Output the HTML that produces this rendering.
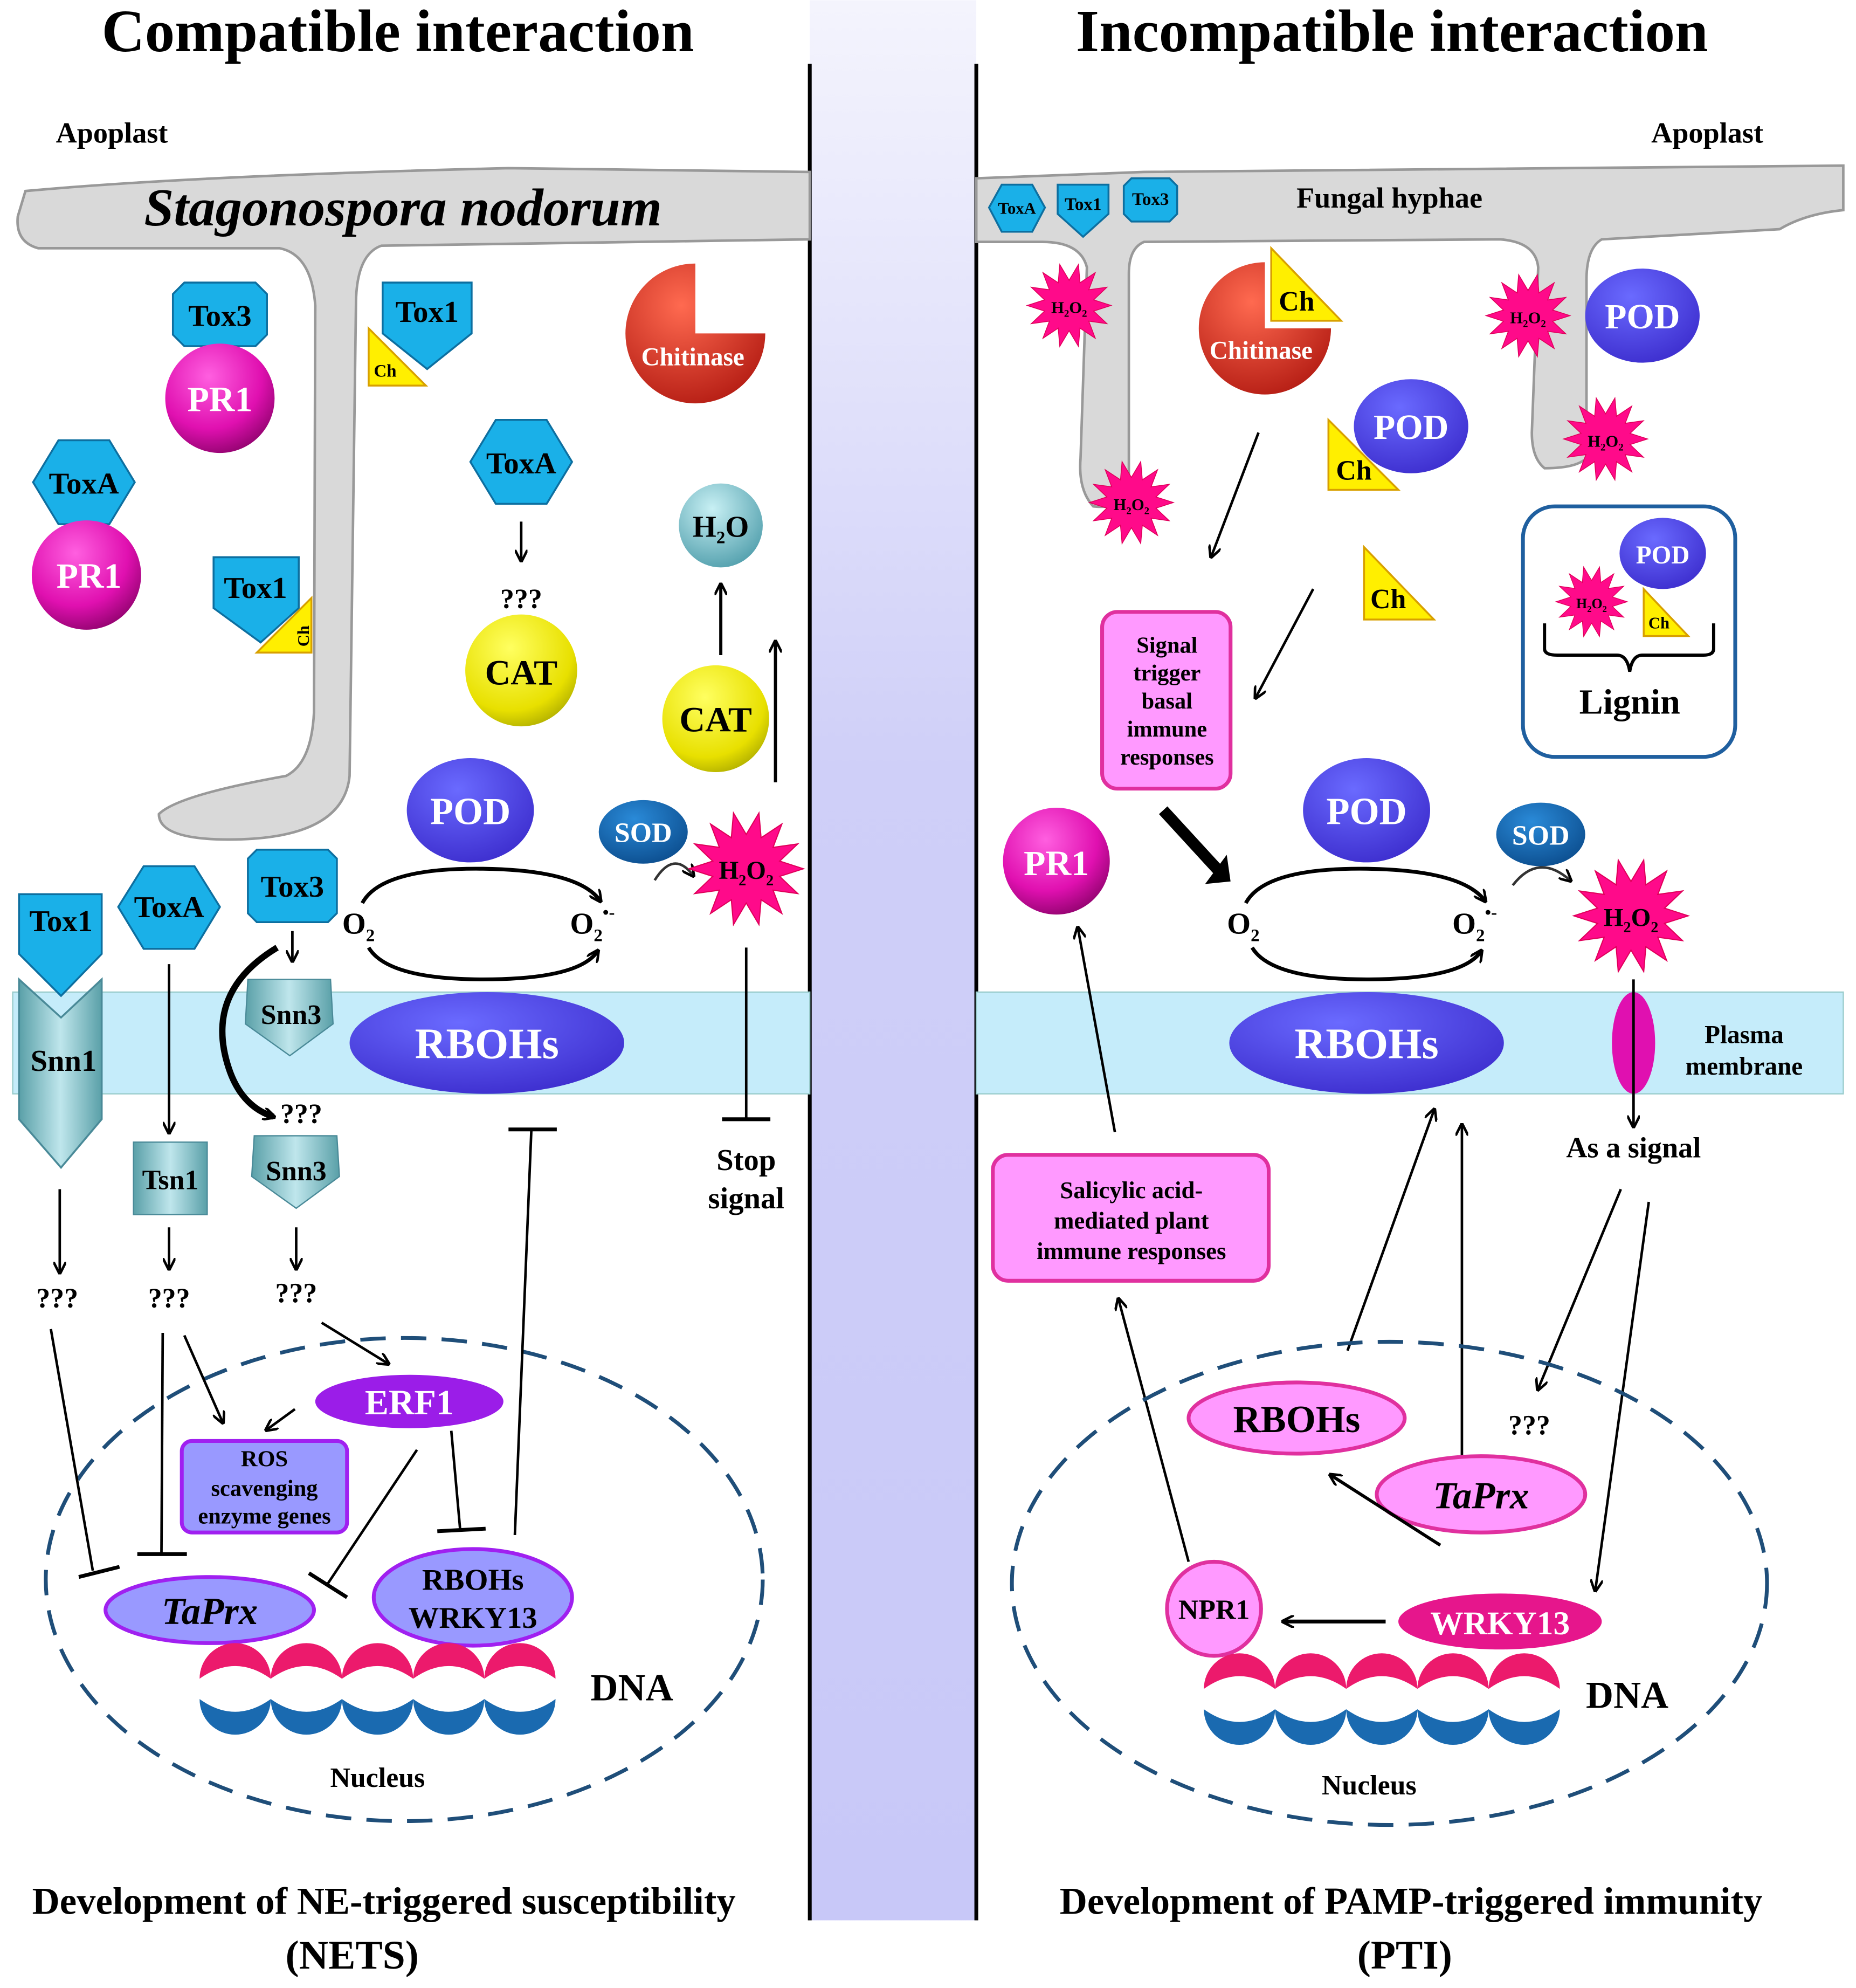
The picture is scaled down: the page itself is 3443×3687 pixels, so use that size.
<!DOCTYPE html>
<html><head><meta charset="utf-8"><style>html,body{margin:0;padding:0;background:#fff}svg{display:block}text{font-family:"Liberation Serif",serif;font-weight:bold}</style></head><body>
<svg width="3443" height="3687" viewBox="0 0 1460 1563" xmlns="http://www.w3.org/2000/svg">
<defs>
<linearGradient id="band" x1="0" y1="0" x2="0" y2="1"><stop offset="0" stop-color="#f4f4fd"/><stop offset="0.4" stop-color="#cfcff8"/><stop offset="1" stop-color="#c8c8f8"/></linearGradient>
<radialGradient id="pink" cx="0.4" cy="0.3" r="0.8"><stop offset="0" stop-color="#ff5fe0"/><stop offset="0.6" stop-color="#e010b0"/><stop offset="1" stop-color="#800060"/></radialGradient>
<radialGradient id="yel" cx="0.4" cy="0.3" r="0.8"><stop offset="0" stop-color="#ffff60"/><stop offset="0.7" stop-color="#e8e000"/><stop offset="1" stop-color="#a0a000"/></radialGradient>
<radialGradient id="blu" cx="0.4" cy="0.3" r="0.8"><stop offset="0" stop-color="#6a6aff"/><stop offset="1" stop-color="#3a2acb"/></radialGradient>
<radialGradient id="teal" cx="0.4" cy="0.3" r="0.8"><stop offset="0" stop-color="#c8f0f4"/><stop offset="1" stop-color="#4a9aa8"/></radialGradient>
<radialGradient id="sod" cx="0.4" cy="0.3" r="0.8"><stop offset="0" stop-color="#2a8ad8"/><stop offset="1" stop-color="#0a4a8a"/></radialGradient>
<radialGradient id="red" cx="0.4" cy="0.3" r="0.8"><stop offset="0" stop-color="#ff6a50"/><stop offset="1" stop-color="#b01810"/></radialGradient>
<linearGradient id="snn" x1="0" y1="0" x2="1" y2="0"><stop offset="0" stop-color="#5aa0a8"/><stop offset="0.5" stop-color="#bfe6ec"/><stop offset="1" stop-color="#5aa0a8"/></linearGradient>
<marker id="ar" markerWidth="10" markerHeight="10" refX="8" refY="5" orient="auto" markerUnits="userSpaceOnUse"><path d="M0,0 L10,5 L0,10" fill="none" stroke="#000" stroke-width="2"/></marker>
<g id="star"><polygon points="1,0 .585,.1335 .901,.434 .469,.374 .6235,.782 .26,.541 .2225,.975 0,.6 -.2225,.975 -.26,.541 -.6235,.782 -.469,.374 -.901,.434 -.585,.1335 -1,0 -.585,-.1335 -.901,-.434 -.469,-.374 -.6235,-.782 -.26,-.541 -.2225,-.975 0,-.6 .2225,-.975 .26,-.541 .6235,-.782 .469,-.374 .901,-.434 .585,-.1335" fill="#ff0a8a" stroke="#e0005a" stroke-width="0.02"/></g>
</defs>
<rect x="637" y="0" width="131" height="1510" fill="url(#band)"/>
<line x1="637" y1="50" x2="637" y2="1510" stroke="#000" stroke-width="3"/>
<line x1="768" y1="50" x2="768" y2="1510" stroke="#000" stroke-width="3"/>
<text x="313" y="40" font-size="47" text-anchor="middle">Compatible interaction</text>
<text x="1095" y="40" font-size="47" text-anchor="middle">Incompatible interaction</text>
<text x="88" y="112" font-size="23" text-anchor="middle">Apoplast</text>
<text x="1343" y="112" font-size="23" text-anchor="middle">Apoplast</text>
<rect x="10" y="780" width="627" height="80" fill="#c5ecfa" stroke="#9cc" stroke-width="1"/>
<rect x="768" y="780" width="682" height="80" fill="#c5ecfa" stroke="#9cc" stroke-width="1"/>
<path d="M20,150 Q150,138 400,132 L637,135 L637,188 L300,193 Q280,200 280,240 L275,610 Q270,660 180,660 Q125,660 125,640 Q140,625 225,610 Q245,600 247,560 L248,240 Q245,200 220,195 L30,195 Q12,190 14,170 Z" fill="#d9d9d9" stroke="#999" stroke-width="2"/>
<text x="317" y="177" font-size="42" font-style="italic" text-anchor="middle">Stagonospora nodorum</text>
<path d="M768,140 L900,135 L1450,130 L1450,165 Q1420,168 1400,180 L1260,188 Q1248,195 1248,220 L1248,360 Q1240,368 1215,368 Q1205,360 1205,340 L1210,210 Q1208,190 1180,188 L900,190 Q888,195 888,215 L888,390 Q880,400 860,398 Q848,385 850,360 L855,210 Q850,190 820,190 L768,190 Z" fill="#d9d9d9" stroke="#999" stroke-width="2"/>
<text x="1093" y="163" font-size="23" text-anchor="middle">Fungal hyphae</text>
<polygon points="778,163 788,145 812,145 822,163 812,182 788,182" fill="#1ab0e8" stroke="#0d6fa0" stroke-width="1.5"/><text x="800" y="168" font-size="13" text-anchor="middle">ToxA</text>
<polygon points="832,145 872,145 872,168 852,186 832,168" fill="#1ab0e8" stroke="#0d6fa0" stroke-width="1.5"/><text x="852" y="165" font-size="14" text-anchor="middle">Tox1</text>
<polygon points="890,140 920,140 926,146 926,168 920,174 890,174 884,168 884,146" fill="#1ab0e8" stroke="#0d6fa0" stroke-width="1.5"/><text x="905" y="161" font-size="14" text-anchor="middle">Tox3</text>
<polygon points="145,222 201,222 210,231 210,263 201,272 145,272 136,263 136,231" fill="#1ab0e8" stroke="#0d6fa0" stroke-width="1.5"/><text x="173" y="256" font-size="24" text-anchor="middle">Tox3</text>
<circle cx="173" cy="313" r="43" fill="url(#pink)"/><text x="173" y="323" font-size="28" fill="#fff" text-anchor="middle">PR1</text>
<polygon points="26,379 46,346 86,346 106,379 86,412 46,412" fill="#1ab0e8" stroke="#0d6fa0" stroke-width="1.5"/><text x="66" y="388" font-size="24" text-anchor="middle">ToxA</text>
<circle cx="68" cy="452" r="43" fill="url(#pink)"/><text x="70" y="462" font-size="28" fill="#fff" text-anchor="middle">PR1</text>
<polygon points="301,222 371,222 371,262 336,290 301,262" fill="#1ab0e8" stroke="#0d6fa0" stroke-width="1.5"/><text x="336" y="253" font-size="24" text-anchor="middle">Tox1</text>
<polygon points="290,258 335,303 290,303" fill="#ffef00" stroke="#d8a000" stroke-width="1.5"/><text x="303" y="296" font-size="14" text-anchor="middle">Ch</text>
<polygon points="168,438 235,438 235,478 205,505 168,478" fill="#1ab0e8" stroke="#0d6fa0" stroke-width="1.5"/><text x="201" y="470" font-size="24" text-anchor="middle">Tox1</text>
<polygon points="245,470 245,513 202,513" fill="#ffef00" stroke="#d8a000" stroke-width="1.5"/><text x="238" y="505" font-size="13" transform="rotate(-90 238 500)" text-anchor="middle">Ch</text>
<path d="M547,262 L602,262 A55 55 0 1 1 547,207 Z" fill="url(#red)"/><text x="545" y="287" font-size="20" fill="#fff" text-anchor="middle">Chitinase</text>
<polygon points="370,363 390,330 430,330 450,363 430,396 390,396" fill="#1ab0e8" stroke="#0d6fa0" stroke-width="1.5"/><text x="410" y="372" font-size="24" text-anchor="middle">ToxA</text>
<line x1="410" y1="410" x2="410" y2="440" stroke="#000" stroke-width="2" marker-end="url(#ar)"/>
<text x="410" y="478" font-size="22" text-anchor="middle">???</text>
<circle cx="410" cy="527" r="44" fill="url(#yel)"/><text x="410" y="538" font-size="28" text-anchor="middle">CAT</text>
<circle cx="567" cy="413" r="33" fill="url(#teal)"/><text x="567" y="422" font-size="24" text-anchor="middle">H<tspan font-size="14" dy="5">2</tspan><tspan dy="-5">O</tspan></text>
<line x1="567" y1="515" x2="567" y2="460" stroke="#000" stroke-width="2.5" marker-end="url(#ar)"/>
<circle cx="563" cy="565" r="42" fill="url(#yel)"/><text x="563" y="575" font-size="28" text-anchor="middle">CAT</text>
<line x1="610" y1="615" x2="610" y2="505" stroke="#000" stroke-width="2.5" marker-end="url(#ar)"/>
<ellipse cx="370" cy="637" rx="50" ry="41" fill="url(#blu)"/><text x="370" y="648" font-size="30" fill="#fff" text-anchor="middle">POD</text>
<ellipse cx="506" cy="654" rx="35" ry="25" fill="url(#sod)"/><text x="506" y="662" font-size="22" fill="#fff" text-anchor="middle">SOD</text>
<path d="M285,710 Q300,682 380,683 Q455,684 472,708" fill="none" stroke="#000" stroke-width="3" marker-end="url(#ar)"/>
<path d="M290,745 Q305,770 380,770 Q455,770 470,748" fill="none" stroke="#000" stroke-width="3" marker-end="url(#ar)"/>
<text x="282" y="734" font-size="24" text-anchor="middle">O<tspan font-size="14" dy="6">2</tspan></text>
<text x="466" y="734" font-size="24" text-anchor="middle">O<tspan font-size="14" dy="6">2</tspan><tspan font-size="14" dy="-18">•-</tspan></text>
<path d="M515,692 Q530,668 545,688" fill="none" stroke="#333" stroke-width="2" marker-end="url(#ar)"/>
<use href="#star" transform="translate(587,683) scale(45)"/>
<text x="587" y="691" font-size="20" text-anchor="middle">H<tspan font-size="12" dy="5">2</tspan><tspan dy="-5">O</tspan><tspan font-size="12" dy="5">2</tspan></text>
<line x1="587" y1="745" x2="587" y2="880" stroke="#000" stroke-width="2"/><line x1="568" y1="880" x2="606" y2="880" stroke="#000" stroke-width="3"/>
<text x="587" y="920" font-size="24" text-anchor="middle">Stop</text><text x="587" y="950" font-size="24" text-anchor="middle">signal</text>
<path d="M15,770 L48,800 L80,770 L80,880 L48,918 L15,880 Z" fill="url(#snn)" stroke="#4a8a98" stroke-width="1.5"/>
<polygon points="15,703 80,703 80,750 48,783 15,750" fill="#1ab0e8" stroke="#0d6fa0" stroke-width="1.5"/>
<text x="48" y="732" font-size="24" text-anchor="middle">Tox1</text>
<text x="50" y="842" font-size="24" text-anchor="middle">Snn1</text>
<polygon points="93,713 113,681 153,681 173,713 153,746 113,746" fill="#1ab0e8" stroke="#0d6fa0" stroke-width="1.5"/><text x="133" y="721" font-size="24" text-anchor="middle">ToxA</text>
<line x1="133" y1="758" x2="133" y2="890" stroke="#000" stroke-width="2" marker-end="url(#ar)"/>
<rect x="105" y="898" width="58" height="57" fill="url(#snn)" stroke="#4a8a98"/><text x="134" y="935" font-size="22" text-anchor="middle">Tsn1</text>
<polygon points="202,668 258,668 265,675 265,718 258,725 202,725 195,718 195,675" fill="#1ab0e8" stroke="#0d6fa0" stroke-width="1.5"/><text x="230" y="705" font-size="24" text-anchor="middle">Tox3</text>
<line x1="230" y1="732" x2="230" y2="755" stroke="#000" stroke-width="2" marker-end="url(#ar)"/>
<polygon points="195,770 260,770 262,805 228,830 193,805" fill="url(#snn)" stroke="#4a8a98"/><text x="229" y="805" font-size="22" text-anchor="middle">Snn3</text>
<path d="M218,745 Q160,780 180,840 Q190,870 215,878" fill="none" stroke="#000" stroke-width="5" marker-end="url(#ar)"/>
<text x="237" y="883" font-size="22" text-anchor="middle">???</text>
<polygon points="200,893 265,893 267,925 233,950 198,925" fill="url(#snn)" stroke="#4a8a98"/><text x="233" y="928" font-size="22" text-anchor="middle">Snn3</text>
<ellipse cx="383" cy="820" rx="108" ry="40" fill="url(#blu)"/><text x="383" y="832" font-size="34" fill="#fff" text-anchor="middle">RBOHs</text>
<line x1="47" y1="935" x2="47" y2="1000" stroke="#000" stroke-width="2" marker-end="url(#ar)"/>
<line x1="133" y1="965" x2="133" y2="997" stroke="#000" stroke-width="2" marker-end="url(#ar)"/>
<line x1="233" y1="965" x2="233" y2="997" stroke="#000" stroke-width="2" marker-end="url(#ar)"/>
<text x="45" y="1028" font-size="22" text-anchor="middle">???</text>
<text x="133" y="1028" font-size="22" text-anchor="middle">???</text>
<text x="233" y="1024" font-size="22" text-anchor="middle">???</text>
<ellipse cx="318" cy="1242" rx="282" ry="190" fill="none" stroke="#1f4e79" stroke-width="3" stroke-dasharray="20 12"/>
<line x1="40" y1="1045" x2="73" y2="1235" stroke="#000" stroke-width="2"/><line x1="62" y1="1240" x2="94" y2="1232" stroke="#000" stroke-width="3"/>
<line x1="128" y1="1048" x2="127" y2="1222" stroke="#000" stroke-width="2"/><line x1="108" y1="1222" x2="147" y2="1222" stroke="#000" stroke-width="3"/>
<line x1="145" y1="1050" x2="175" y2="1118" stroke="#000" stroke-width="2" marker-end="url(#ar)"/>
<line x1="253" y1="1040" x2="305" y2="1072" stroke="#000" stroke-width="2" marker-end="url(#ar)"/>
<line x1="232" y1="1108" x2="210" y2="1124" stroke="#000" stroke-width="2" marker-end="url(#ar)"/>
<line x1="328" y1="1140" x2="258" y2="1245" stroke="#000" stroke-width="2"/><line x1="243" y1="1237" x2="273" y2="1256" stroke="#000" stroke-width="3"/>
<line x1="355" y1="1125" x2="362" y2="1203" stroke="#000" stroke-width="2"/><line x1="344" y1="1204" x2="382" y2="1202" stroke="#000" stroke-width="3"/>
<line x1="405" y1="1207" x2="418" y2="888" stroke="#000" stroke-width="2"/><line x1="400" y1="888" x2="438" y2="888" stroke="#000" stroke-width="3"/>
<ellipse cx="322" cy="1102" rx="74" ry="21" fill="#9b1de8"/><text x="322" y="1112" font-size="28" fill="#fff" text-anchor="middle">ERF1</text>
<rect x="143" y="1133" width="130" height="72" rx="8" fill="#9999ff" stroke="#a020f0" stroke-width="3"/>
<text x="208" y="1153" font-size="18" text-anchor="middle">ROS</text><text x="208" y="1176" font-size="18" text-anchor="middle">scavenging</text><text x="208" y="1198" font-size="18" text-anchor="middle">enzyme genes</text>
<ellipse cx="165" cy="1266" rx="82" ry="26" fill="#9999ff" stroke="#a020f0" stroke-width="3"/><text x="165" y="1277" font-size="30" font-style="italic" text-anchor="middle">TaPrx</text>
<ellipse cx="372" cy="1256" rx="78" ry="38" fill="#9999ff" stroke="#a020f0" stroke-width="3"/><text x="372" y="1250" font-size="24" text-anchor="middle">RBOHs</text><text x="372" y="1280" font-size="24" text-anchor="middle">WRKY13</text>
<g id="dnaL">
<path d="M157,1320 A28 28 0 0 1 213,1320 Q185,1300 157,1320Z" fill="#ec1a6c"/><path d="M157,1336 A28 28 0 0 0 213,1336 Q185,1356 157,1336Z" fill="#1a6ab0"/>
<path d="M213,1320 A28 28 0 0 1 269,1320 Q241,1300 213,1320Z" fill="#ec1a6c"/><path d="M213,1336 A28 28 0 0 0 269,1336 Q241,1356 213,1336Z" fill="#1a6ab0"/>
<path d="M269,1320 A28 28 0 0 1 325,1320 Q297,1300 269,1320Z" fill="#ec1a6c"/><path d="M269,1336 A28 28 0 0 0 325,1336 Q297,1356 269,1336Z" fill="#1a6ab0"/>
<path d="M325,1320 A28 28 0 0 1 381,1320 Q353,1300 325,1320Z" fill="#ec1a6c"/><path d="M325,1336 A28 28 0 0 0 381,1336 Q353,1356 325,1336Z" fill="#1a6ab0"/>
<path d="M381,1320 A28 28 0 0 1 437,1320 Q409,1300 381,1320Z" fill="#ec1a6c"/><path d="M381,1336 A28 28 0 0 0 437,1336 Q409,1356 381,1336Z" fill="#1a6ab0"/>
</g>
<text x="497" y="1337" font-size="30" text-anchor="middle">DNA</text>
<text x="297" y="1405" font-size="22" text-anchor="middle">Nucleus</text>
<text x="302" y="1505" font-size="30" text-anchor="middle">Development of NE-triggered susceptibility</text>
<text x="277" y="1548" font-size="32" text-anchor="middle">(NETS)</text>
<use href="#star" transform="translate(841,240) scale(33)"/><text x="841" y="246" font-size="13" text-anchor="middle">H<tspan font-size="8" dy="3">2</tspan><tspan dy="-3">O</tspan><tspan font-size="8" dy="3">2</tspan></text>
<use href="#star" transform="translate(890,395) scale(33)"/><text x="890" y="401" font-size="13" text-anchor="middle">H<tspan font-size="8" dy="3">2</tspan><tspan dy="-3">O</tspan><tspan font-size="8" dy="3">2</tspan></text>
<use href="#star" transform="translate(1202,248) scale(33)"/><text x="1202" y="254" font-size="13" text-anchor="middle">H<tspan font-size="8" dy="3">2</tspan><tspan dy="-3">O</tspan><tspan font-size="8" dy="3">2</tspan></text>
<use href="#star" transform="translate(1263,345) scale(33)"/><text x="1263" y="351" font-size="13" text-anchor="middle">H<tspan font-size="8" dy="3">2</tspan><tspan dy="-3">O</tspan><tspan font-size="8" dy="3">2</tspan></text>
<path d="M995,258 L1047,258 A52 52 0 1 1 995,206 Z" fill="url(#red)"/><text x="992" y="282" font-size="20" fill="#fff" text-anchor="middle">Chitinase</text>
<polygon points="1000,195 1055,252 1000,252" fill="#ffef00" stroke="#d8a000" stroke-width="1.5"/><text x="1020" y="244" font-size="22" text-anchor="middle">Ch</text>
<ellipse cx="1292" cy="248" rx="45" ry="37" fill="url(#blu)"/><text x="1292" y="258" font-size="28" fill="#fff" text-anchor="middle">POD</text>
<ellipse cx="1110" cy="335" rx="45" ry="37" fill="url(#blu)"/><text x="1110" y="345" font-size="28" fill="#fff" text-anchor="middle">POD</text>
<polygon points="1045,330 1100,385 1045,385" fill="#ffef00" stroke="#d8a000" stroke-width="1.5"/><text x="1065" y="377" font-size="22" text-anchor="middle">Ch</text>
<polygon points="1073,430 1128,487 1073,487" fill="#ffef00" stroke="#d8a000" stroke-width="1.5"/><text x="1092" y="478" font-size="22" text-anchor="middle">Ch</text>
<line x1="990" y1="340" x2="953" y2="437" stroke="#000" stroke-width="2" marker-end="url(#ar)"/>
<line x1="1033" y1="463" x2="988" y2="548" stroke="#000" stroke-width="2" marker-end="url(#ar)"/>
<rect x="867" y="481" width="101" height="139" rx="12" fill="#ff99ff" stroke="#e0309f" stroke-width="3"/>
<text x="918" y="513" font-size="18" text-anchor="middle">Signal</text><text x="918" y="535" font-size="18" text-anchor="middle">trigger</text><text x="918" y="557" font-size="18" text-anchor="middle">basal</text><text x="918" y="579" font-size="18" text-anchor="middle">immune</text><text x="918" y="601" font-size="18" text-anchor="middle">responses</text>
<rect x="1198" y="398" width="167" height="197" rx="25" fill="#fff" stroke="#1f5f9f" stroke-width="3"/>
<ellipse cx="1308" cy="435" rx="34" ry="28" fill="url(#blu)"/><text x="1308" y="443" font-size="20" fill="#fff" text-anchor="middle">POD</text>
<use href="#star" transform="translate(1252,473) scale(28)"/><text x="1252" y="478" font-size="11" text-anchor="middle">H<tspan font-size="7" dy="3">2</tspan><tspan dy="-3">O</tspan><tspan font-size="7" dy="3">2</tspan></text>
<polygon points="1293,463 1328,500 1293,500" fill="#ffef00" stroke="#d8a000" stroke-width="1.5"/><text x="1305" y="494" font-size="13" text-anchor="middle">Ch</text>
<path d="M1215,490 L1215,510 Q1215,515 1225,515 L1272,515 Q1280,515 1282,528 Q1284,515 1292,515 L1340,515 Q1348,515 1348,510 L1348,490" fill="none" stroke="#000" stroke-width="2.5"/>
<text x="1282" y="561" font-size="28" text-anchor="middle">Lignin</text>
<line x1="915" y1="637" x2="960" y2="686" stroke="#000" stroke-width="9"/><polygon points="948,695 968,693 965,672" fill="#000"/>
<circle cx="831" cy="677" r="42" fill="url(#pink)"/><text x="831" y="688" font-size="28" fill="#fff" text-anchor="middle">PR1</text>
<ellipse cx="1075" cy="637" rx="50" ry="41" fill="url(#blu)"/><text x="1075" y="648" font-size="30" fill="#fff" text-anchor="middle">POD</text>
<ellipse cx="1212" cy="656" rx="35" ry="25" fill="url(#sod)"/><text x="1212" y="664" font-size="22" fill="#fff" text-anchor="middle">SOD</text>
<path d="M980,710 Q995,682 1075,683 Q1150,684 1168,708" fill="none" stroke="#000" stroke-width="3" marker-end="url(#ar)"/>
<path d="M985,745 Q1000,770 1075,770 Q1150,770 1165,748" fill="none" stroke="#000" stroke-width="3" marker-end="url(#ar)"/>
<text x="978" y="734" font-size="24" text-anchor="middle">O<tspan font-size="14" dy="6">2</tspan></text>
<text x="1160" y="734" font-size="24" text-anchor="middle">O<tspan font-size="14" dy="6">2</tspan><tspan font-size="14" dy="-18">•-</tspan></text>
<path d="M1190,696 Q1210,670 1235,692" fill="none" stroke="#333" stroke-width="2" marker-end="url(#ar)"/>
<ellipse cx="1075" cy="820" rx="108" ry="40" fill="url(#blu)"/><text x="1075" y="832" font-size="34" fill="#fff" text-anchor="middle">RBOHs</text>
<ellipse cx="1285" cy="820" rx="17" ry="40" fill="#e010b0"/>
<use href="#star" transform="translate(1283,720) scale(45)"/>
<text x="1283" y="728" font-size="20" text-anchor="middle">H<tspan font-size="12" dy="5">2</tspan><tspan dy="-5">O</tspan><tspan font-size="12" dy="5">2</tspan></text>
<line x1="1285" y1="770" x2="1285" y2="885" stroke="#000" stroke-width="2" marker-end="url(#ar)"/>
<text x="1372" y="820" font-size="20" text-anchor="middle">Plasma</text><text x="1372" y="845" font-size="20" text-anchor="middle">membrane</text>
<text x="1285" y="910" font-size="23" text-anchor="middle">As a signal</text>
<rect x="781" y="908" width="217" height="99" rx="12" fill="#ff99ff" stroke="#e0309f" stroke-width="3"/>
<text x="890" y="942" font-size="19" text-anchor="middle">Salicylic acid-</text><text x="890" y="966" font-size="19" text-anchor="middle">mediated plant</text><text x="890" y="990" font-size="19" text-anchor="middle">immune responses</text>
<line x1="877" y1="890" x2="848" y2="730" stroke="#000" stroke-width="2" marker-end="url(#ar)"/>
<line x1="935" y1="1228" x2="880" y2="1022" stroke="#000" stroke-width="2" marker-end="url(#ar)"/>
<line x1="1060" y1="1062" x2="1128" y2="873" stroke="#000" stroke-width="2" marker-end="url(#ar)"/>
<line x1="1150" y1="1150" x2="1150" y2="885" stroke="#000" stroke-width="2" marker-end="url(#ar)"/>
<line x1="1275" y1="935" x2="1210" y2="1092" stroke="#000" stroke-width="2" marker-end="url(#ar)"/>
<line x1="1297" y1="945" x2="1255" y2="1250" stroke="#000" stroke-width="2" marker-end="url(#ar)"/>
<text x="1203" y="1128" font-size="22" text-anchor="middle">???</text>
<ellipse cx="1093" cy="1245" rx="297" ry="190" fill="none" stroke="#1f4e79" stroke-width="3" stroke-dasharray="20 12"/>
<ellipse cx="1020" cy="1115" rx="85" ry="28" fill="#ff99ff" stroke="#e0309f" stroke-width="3"/><text x="1020" y="1126" font-size="30" text-anchor="middle">RBOHs</text>
<ellipse cx="1165" cy="1175" rx="82" ry="30" fill="#ff99ff" stroke="#e0309f" stroke-width="3"/><text x="1165" y="1186" font-size="30" font-style="italic" text-anchor="middle">TaPrx</text>
<circle cx="955" cy="1265" r="37" fill="#ff99ff" stroke="#e0309f" stroke-width="3"/><text x="955" y="1273" font-size="22" text-anchor="middle">NPR1</text>
<ellipse cx="1180" cy="1275" rx="80" ry="22" fill="#e6168c"/><text x="1180" y="1285" font-size="26" fill="#fff" text-anchor="middle">WRKY13</text>
<line x1="1090" y1="1275" x2="1010" y2="1275" stroke="#000" stroke-width="3" marker-end="url(#ar)"/>
<line x1="1133" y1="1215" x2="1047" y2="1160" stroke="#000" stroke-width="2.5" marker-end="url(#ar)"/>
<use href="#dnaL" transform="translate(790,8)"/>
<text x="1280" y="1343" font-size="30" text-anchor="middle">DNA</text>
<text x="1077" y="1411" font-size="22" text-anchor="middle">Nucleus</text>
<text x="1110" y="1505" font-size="30" text-anchor="middle">Development of PAMP-triggered immunity</text>
<text x="1105" y="1548" font-size="32" text-anchor="middle">(PTI)</text>
</svg>
</body></html>
